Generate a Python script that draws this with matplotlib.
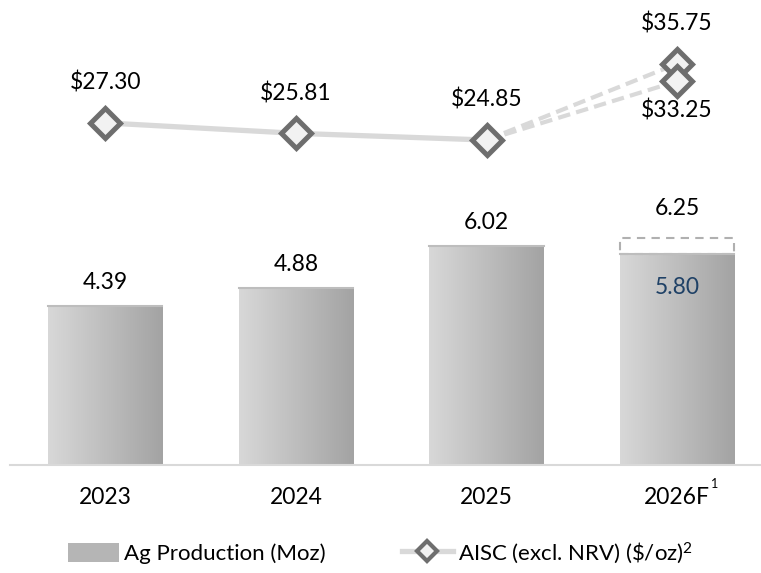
import numpy as np
import matplotlib
matplotlib.use("Agg")
import matplotlib.pyplot as plt
from matplotlib.lines import Line2D
from matplotlib.patches import Patch

plt.rcParams['font.family'] = ['Lato', 'DejaVu Sans']
plt.rcParams['mathtext.default'] = 'regular'

# data
years = ['2023', '2024', '2025', '2026F']
production = [4.39, 4.88, 6.02, 5.80]
production_high = 6.25
aisc = [27.30, 25.81, 24.85]
aisc_2026 = [35.75, 33.25]   # high / low guidance

fig = plt.figure(figsize=(7.61, 5.73), dpi=100)
ax = fig.add_axes([10 / 761, 108 / 573, 751 / 761, 445 / 573])
x = np.arange(len(years))
fs = 16.5

# bars with horizontal gradient
bars = ax.bar(x, production, width=0.6, color='none', edgecolor='none', zorder=2)
grad = np.linspace(0, 1, 256).reshape(1, -1)
cmap = matplotlib.colors.LinearSegmentedColormap.from_list('g', ['#d8d8d8', '#a3a3a3'])
for b in bars:
    x0, y0, w, h = b.get_x(), b.get_y(), b.get_width(), b.get_height()
    im = ax.imshow(grad, cmap=cmap, extent=(x0, x0 + w, y0, y0 + h),
                   aspect='auto', zorder=2)
    im.set_clip_path(b)
    ax.plot([x0, x0 + w], [h, h], color='#bdbdbd', lw=1.5, zorder=3)

# forecast upper range (dashed box)
ax.bar(x[3], production_high - production[3], bottom=production[3], width=0.6,
       facecolor='white', edgecolor='#b0b0b0', linestyle=(0, (4, 3)), lw=1.5, zorder=2)

ax.set_xlim(-0.5, 3.44)
ax.set_ylim(0, 12.26)
for i, v in enumerate(production[:3]):
    ax.annotate(f'{v:.2f}', (x[i], v), xytext=(0, 17), textcoords='offset points',
                ha='center', va='center', fontsize=fs, color='black')
ax.annotate(f'{production[3]:.2f}', (x[3], production[3]), xytext=(0, -24),
            textcoords='offset points', ha='center', va='center', fontsize=fs, color='#1f4166')
ax.annotate(f'{production_high:.2f}', (x[3], production_high), xytext=(0, 21),
            textcoords='offset points', ha='center', va='center', fontsize=fs, color='black')

for s in ['top', 'right', 'left']:
    ax.spines[s].set_visible(False)
ax.spines['bottom'].set_color('#d9d9d9')
ax.spines['bottom'].set_linewidth(1.5)
ax.set_yticks([])
ax.set_xticks(x)
ax.set_xticklabels(years, fontsize=fs)
ax.tick_params(axis='x', length=0, pad=16)
ax.annotate('1', (x[3], 0), xytext=(27, -14), textcoords='offset points',
            fontsize=9, ha='center', va='center')

# AISC line
ax2 = ax.twinx()
ax2.set_ylim(-21.58, 42.0)
ax2.axis('off')
line_c = '#d9d9d9'
mk = dict(marker='D', markersize=15, markerfacecolor='#f2f2f2',
          markeredgecolor='#6e6e6e', markeredgewidth=3.6)
for v in aisc_2026:
    ax2.plot([x[2], x[3]], [aisc[2], v], color=line_c, lw=3, linestyle=(0, (3, 1.5)), zorder=3)
ax2.plot(x[:3], aisc, color=line_c, lw=3.8, zorder=4, **mk)
ax2.plot([x[3]] * 2, aisc_2026, linestyle='none', zorder=5, **mk)

for i, v in enumerate(aisc):
    ax2.annotate(f'${v:.2f}', (x[i], v), xytext=(0, 29), textcoords='offset points',
                 ha='center', va='center', fontsize=fs)
ax2.annotate(f'${aisc_2026[0]:.2f}', (x[3], aisc_2026[0]), xytext=(0, 29),
             textcoords='offset points', ha='center', va='center', fontsize=fs)
ax2.annotate(f'${aisc_2026[1]:.2f}', (x[3], aisc_2026[1]), xytext=(0, -21),
             textcoords='offset points', ha='center', va='center', fontsize=fs)

handles = [Patch(facecolor='#b5b5b5', edgecolor='none'),
           Line2D([], [], color=line_c, lw=3.8, marker='D', markersize=10,
                  markerfacecolor='#f2f2f2', markeredgecolor='#6e6e6e', markeredgewidth=3)]
labels = ['Ag Production (Moz)', r'AISC (excl. NRV) (\$/oz)$^{2}$']
fig.legend(handles, labels, loc='center', bbox_to_anchor=(0.5, 20 / 573),
           ncol=2, frameon=False, fontsize=16, handlelength=2.3, handleheight=1.0,
           handletextpad=0.25, columnspacing=3.4)

fig.savefig('out.png', dpi=100)
